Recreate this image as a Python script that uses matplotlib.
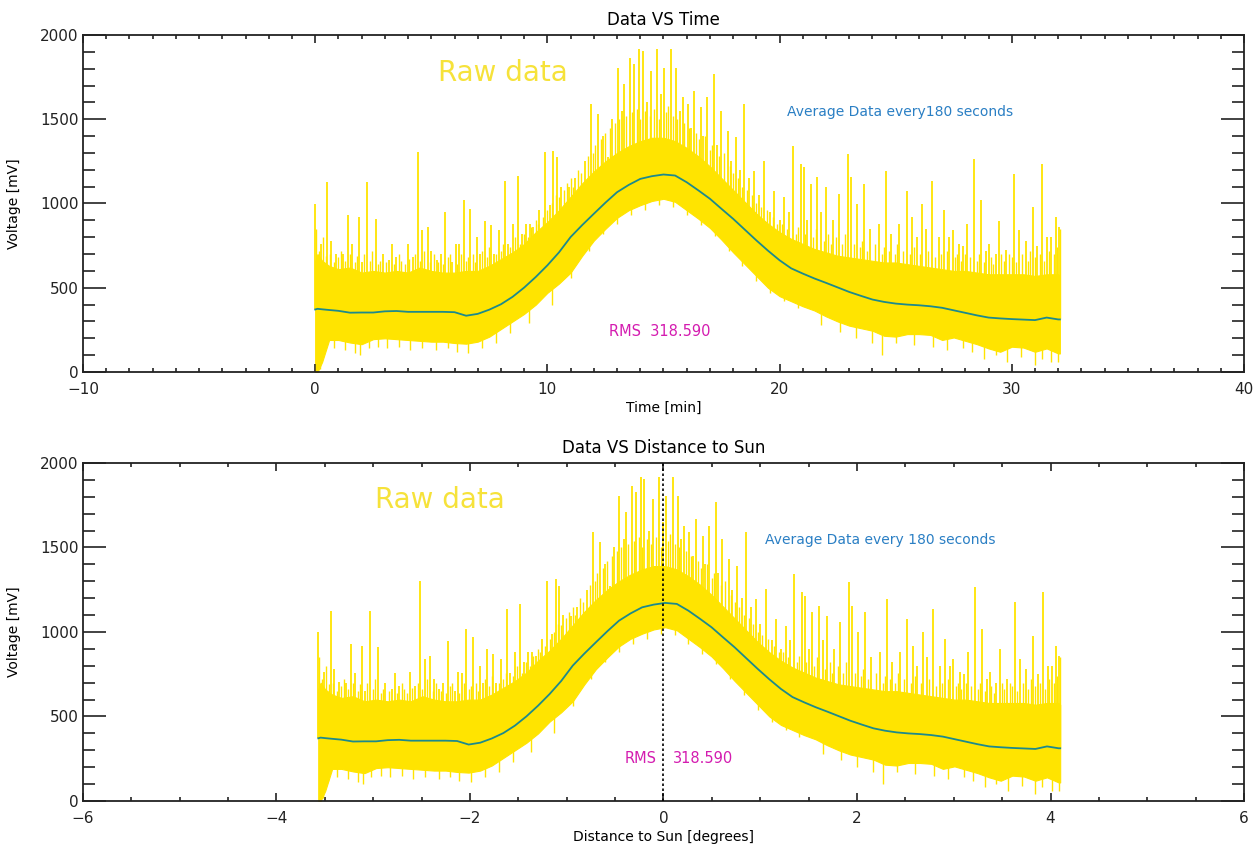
import numpy as np
import matplotlib
matplotlib.use('Agg')
import matplotlib.pyplot as plt
from matplotlib.ticker import MultipleLocator

plt.rcParams['font.family'] = ['DejaVu Sans']

# time grid of the envelope / running average [min]
env_t = [0.0, 0.1, 0.3, 0.6, 1.0, 1.5, 2.0, 2.5, 3.0, 3.5, 4.0, 4.5, 5.0, 5.5,
         6.0, 6.5, 7.0, 7.5, 8.0, 8.5, 9.0, 9.5, 10.0, 10.5, 11.0, 11.5, 12.0,
         12.5, 13.0, 13.5, 14.0, 14.5, 15.0, 15.5, 16.0, 16.5, 17.0, 17.5, 18.0,
         18.5, 19.0, 19.5, 20.0, 20.5, 21.0, 21.5, 22.0, 22.5, 23.0, 23.5, 24.0,
         24.5, 25.0, 25.5, 26.0, 26.5, 27.0, 27.5, 28.0, 28.5, 29.0, 29.5, 30.0,
         30.5, 31.0, 31.5, 32.0, 32.07]
# lower edge of the raw data band [mV]
raw_low = [0, 0, 60, 190, 190, 175, 165, 195, 200, 195, 190, 185, 180, 180,
           172, 168, 180, 210, 255, 300, 345, 400, 470, 525, 590, 690, 780,
           850, 915, 960, 990, 1015, 1028, 1010, 960, 910, 855, 785, 710,
           640, 570, 500, 450, 420, 390, 365, 330, 300, 275, 260, 245,
           215, 210, 225, 225, 220, 190, 205, 185, 165, 140, 120, 150,
           145, 120, 140, 110, 110]
# upper edge of the dense part of the raw data [mV]
raw_high = [660, 700, 660, 630, 610, 620, 590, 600, 590, 600, 590, 620, 600, 590,
            590, 600, 600, 630, 670, 710, 760, 830, 890, 960, 1040, 1120, 1190,
            1250, 1300, 1340, 1370, 1390, 1390, 1370, 1330, 1280, 1220, 1150, 1080,
            1010, 940, 880, 830, 790, 760, 730, 710, 690, 680, 670, 660,
            650, 650, 640, 630, 620, 610, 600, 600, 590, 580, 580, 580,
            580, 570, 580, 580, 570]
# average data every 180 s [mV]
avg_v = [371, 375, 372, 368, 363, 352, 353, 353, 360, 362, 357, 357, 357, 357,
         355, 334, 345, 370, 402, 446, 501, 564, 633, 710, 801, 872, 939,
         1005, 1067, 1110, 1146, 1162, 1172, 1166, 1126, 1078, 1028, 968, 909,
         845, 781, 720, 663, 615, 584, 555, 529, 502, 475, 452, 430,
         416, 406, 400, 396, 390, 381, 366, 351, 336, 323, 318, 314,
         311, 308, 323, 312, 312]

# tall spikes of the raw signal: time [min], peak [mV]
spike_t = [0.0, 0.24, 0.53, 0.7, 0.89, 1.2, 1.4, 1.6, 1.87, 2.0, 2.25, 2.6, 2.9,
           3.2, 3.3, 3.5, 3.98, 4.2, 4.41, 4.62, 4.84, 5.0, 5.24, 5.4, 5.6, 5.9,
           6.06, 6.2, 6.39, 6.68, 6.99, 7.1, 7.31, 7.57, 7.7, 7.92, 8.17, 8.3,
           8.5, 8.74, 8.9, 9.07, 9.26, 9.4, 9.65, 9.9, 10.1, 10.26, 10.4, 10.6,
           10.94, 11.2, 11.37, 11.6, 11.87, 12.16, 12.4, 12.59, 12.8, 13.02,
           13.2, 13.31, 13.57, 13.74, 13.95, 14.1, 14.3, 14.46, 14.74, 14.9,
           15.03, 15.32, 15.53, 15.7, 15.82, 16.04, 16.2, 16.32, 16.61, 16.7,
           16.89, 17.18, 17.3, 17.47, 17.76, 17.9, 18.12, 18.3, 18.47, 18.7,
           18.9, 19.1, 19.34, 19.6, 19.77, 20.0, 20.2, 20.4, 20.56, 20.92,
           21.06, 21.2, 21.35, 21.63, 21.8, 21.99, 22.3, 22.57, 22.93, 23.07,
           23.35, 23.64, 23.9, 24.29, 24.6, 24.8, 25.15, 25.47, 25.72, 25.9,
           26.15, 26.3, 26.56, 26.87, 27.09, 27.3, 27.45, 27.73, 27.9, 28.09,
           28.38, 28.67, 28.9, 29.02, 29.3, 29.45, 29.77, 30.1, 30.32, 30.6,
           30.9, 31.1, 31.32, 31.53, 31.7, 31.89, 32.04]
spike_v = [998, 761, 1126, 780, 702, 700, 929, 760, 919, 650, 1126, 909, 700,
           663, 760, 682, 761, 680, 1304, 840, 860, 720, 663, 700, 949, 650,
           761, 760, 1018, 968, 801, 700, 899, 870, 700, 840, 1136, 760,
           880, 1166, 820, 880, 880, 860, 959, 1304, 990, 1314, 1274, 1100,
           1097, 1150, 1077, 1250, 1590, 1531, 1400, 1274, 1500, 1807,
           1550, 1708, 1866, 1826, 1915, 1905, 1600, 1787, 1915, 1650,
           1807, 1915, 1807, 1550, 1629, 1590, 1450, 1669, 1570, 1400,
           1629, 1767, 1350, 1550, 1432, 1250, 1393, 1200, 1590, 1150,
           1195, 1050, 1254, 950, 1077, 900, 1037, 950, 1343, 1235,
           1215, 900, 1116, 1156, 950, 1097, 900, 1057, 1294, 1156,
           998, 1116, 850, 880, 1195, 820, 880, 1077, 919, 800,
           998, 850, 1136, 801, 959, 800, 840, 761, 750, 880,
           1264, 1018, 720, 761, 700, 899, 722, 1176, 840, 780,
           978, 750, 1235, 801, 800, 919, 860]

# shorter spikes that make the ragged top of the band
small_t = [0.05, 0.15, 0.35, 0.45, 0.65, 0.8, 1.0, 1.1, 1.3, 1.5, 1.7, 1.8, 2.1,
           2.35, 2.45, 2.7, 2.8, 3.05, 3.4, 3.6, 3.7, 3.85, 4.05, 4.3, 4.5, 4.7,
           4.95, 5.1, 5.3, 5.5, 5.7, 5.8, 6.1, 6.3, 6.5, 6.6, 6.8, 6.9, 7.2, 7.4,
           7.5, 7.8, 8.0, 8.1, 8.4, 8.6, 8.8, 9.0, 9.15, 9.3, 9.5, 9.6, 9.8,
           10.0, 10.2, 10.35, 10.5, 10.7, 10.85, 11.0, 11.1, 11.3, 11.45, 11.75,
           11.95, 12.05, 12.3, 12.5, 12.7, 12.9, 13.1, 13.4, 13.65, 13.85, 14.0,
           14.2, 14.4, 14.6, 14.8, 15.1, 15.2, 15.4, 15.6, 15.9, 16.1, 16.4,
           16.55, 16.8, 17.0, 17.1, 17.4, 17.6, 17.85, 18.0, 18.2, 18.4, 18.6,
           18.8, 19.0, 19.2, 19.45, 19.7, 19.9, 20.1, 20.3, 20.7, 20.8, 21.1,
           21.45, 21.55, 21.9, 22.1, 22.2, 22.45, 22.7, 22.8, 23.2, 23.45, 23.55,
           23.75, 24.1, 24.4, 24.5, 24.7, 24.95, 25.05, 25.3, 25.6, 25.8, 26.05,
           26.4, 26.7, 26.95, 27.2, 27.55, 27.65, 27.8, 28.0, 28.2, 28.5, 28.6,
           28.8, 29.1, 29.2, 29.55, 29.65, 29.9, 30.0, 30.2, 30.45, 30.7, 30.8,
           31.0, 31.2, 31.4, 31.6, 31.8, 31.95, 32.07]
small_v = [850, 720, 800, 690, 700, 650, 680, 720, 660, 700, 650, 690, 700,
           660, 720, 640, 660, 650, 640, 700, 660, 640, 670, 700, 660, 720,
           650, 700, 650, 640, 680, 700, 640, 700, 660, 680, 700, 650, 720, 680,
           740, 700, 720, 760, 740, 800, 760, 820, 800, 860, 900, 880, 920,
           960, 1000, 1050, 1040, 1080, 1120, 1150, 1100, 1200, 1180, 1280,
           1300, 1350, 1380, 1420, 1450, 1480, 1500, 1520, 1540, 1560, 1500,
           1550, 1520, 1560, 1500, 1540, 1580, 1520, 1500, 1480, 1450, 1420,
           1380, 1400, 1320, 1350, 1280, 1300, 1220, 1180, 1150, 1100, 1080,
           1050, 1000, 980, 960, 920, 880, 880, 850, 820, 860, 820,
           800, 850, 780, 820, 760, 800, 760, 820, 760, 740, 780,
           720, 760, 700, 740, 720, 700, 760, 720, 700, 740, 700,
           720, 680, 700, 720, 680, 700, 660, 700, 680, 660, 700,
           650, 680, 640, 700, 660, 700, 680, 650, 700, 660, 720,
           680, 700, 660, 720, 700, 740, 850]

# downward spikes below the band
dip_t = [0.05, 0.2, 0.4, 0.8, 1.3, 1.7, 1.95, 2.3, 2.7, 3.1, 3.6, 4.1, 4.6, 5.2,
         5.7, 6.1, 6.6, 7.2, 7.8, 8.4, 9.2, 10.2, 11.0, 11.8, 12.4, 13.0, 13.6,
         14.2, 14.8, 15.4, 16.0, 16.6, 17.2, 17.8, 18.4, 19.0, 19.6, 20.2, 20.8,
         21.8, 22.6, 23.3, 24.0, 24.4, 25.0, 25.8, 26.6, 27.2, 27.9, 28.3, 28.8,
         29.3, 29.8, 30.4, 31.0, 31.3, 31.7, 32.0]
dip_v = [0, 20, 120, 140, 130, 110, 100, 140, 150, 140, 150, 130, 140, 130,
         140, 120, 110, 140, 170, 230, 290, 400, 560, 720, 820, 880, 930,
         960, 990, 980, 930, 870, 810, 720, 630, 540, 470, 420, 380,
         280, 240, 200, 170, 100, 170, 160, 150, 130, 140, 120, 80,
         100, 60, 90, 40, 80, 60, 60]

# time -> angular distance to the Sun
DEG_START = -3.568
DEG_PER_MIN = 0.2391

YELLOW = '#ffe400'
LINE_C = '#1d8a8c'
BLUE_T = '#2a7fc4'
MAG_T = '#d41cb0'

env_t = np.array(env_t)
spike_t = np.array(spike_t)
small_t = np.array(small_t)
dip_t = np.array(dip_t)

fig = plt.figure(figsize=(12.59, 8.47), dpi=100)
ax1 = fig.add_axes([0.0659, 0.5608, 0.9222, 0.3979])
ax2 = fig.add_axes([0.0659, 0.0543, 0.9222, 0.3991])


def draw(ax, conv):
    x = conv(env_t)
    ax.fill_between(x, raw_low, raw_high, color=YELLOW, lw=0.8, ec=YELLOW, zorder=1)
    ax.vlines(conv(small_t), np.interp(small_t, env_t, avg_v), small_v,
              color=YELLOW, lw=1.0, zorder=2)
    ax.vlines(conv(dip_t), dip_v, np.interp(dip_t, env_t, avg_v),
              color=YELLOW, lw=1.0, zorder=2)
    ax.vlines(conv(spike_t), np.interp(spike_t, env_t, avg_v), spike_v,
              color=YELLOW, lw=1.3, zorder=2)
    ax.plot(x, avg_v, color=LINE_C, lw=1.3, zorder=3)
    ax.set_ylim(0, 2000)
    ax.yaxis.set_major_locator(MultipleLocator(500))
    ax.yaxis.set_minor_locator(MultipleLocator(100))
    ax.tick_params(which='both', direction='in', top=True, right=True,
                   labelsize=11, colors='#222222')
    ax.tick_params(axis='y', which='major', length=16.5, width=1.2, pad=3)
    ax.tick_params(axis='y', which='minor', length=8.5, width=1.2)
    ax.tick_params(axis='x', which='major', length=5.5, width=1.2, pad=7)
    ax.tick_params(axis='x', which='minor', length=3, width=1.2)
    for s in ax.spines.values():
        s.set_linewidth(1.3)
        s.set_color('#222222')
    ax.set_ylabel('Voltage [mV]', fontsize=10, labelpad=14)


draw(ax1, lambda t: t)
ax1.set_xlim(-10, 40)
ax1.xaxis.set_major_locator(MultipleLocator(10))
ax1.xaxis.set_minor_locator(MultipleLocator(1))
ax1.set_title('Data VS Time', fontsize=12, pad=7)
ax1.set_xlabel('Time [min]', fontsize=10, labelpad=3)
ax1.text(5.3, 1775, 'Raw data', color='#f6e23a', fontsize=20, va='center', ha='left')
ax1.text(20.3, 1540, 'Average Data every180 seconds', color=BLUE_T, fontsize=10,
         va='center', ha='left')
ax1.text(12.66, 243, 'RMS  318.590', color=MAG_T, fontsize=10.5, va='center', ha='left')

draw(ax2, lambda t: DEG_START + DEG_PER_MIN * t)
ax2.set_xlim(-6, 6)
ax2.xaxis.set_major_locator(MultipleLocator(2))
ax2.xaxis.set_minor_locator(MultipleLocator(0.5))
ax2.axvline(0, color='black', lw=1.2, ls=(0, (1.5, 1.5)), zorder=4)
ax2.set_title('Data VS Distance to Sun', fontsize=12, pad=7)
ax2.set_xlabel('Distance to Sun [degrees]', fontsize=10, labelpad=3)
ax2.text(-2.98, 1780, 'Raw data', color='#f6e23a', fontsize=20, va='center', ha='left')
ax2.text(1.05, 1544, 'Average Data every 180 seconds', color=BLUE_T, fontsize=10,
         va='center', ha='left')
ax2.text(-0.40, 254, 'RMS', color=MAG_T, fontsize=10.5, va='center', ha='left')
ax2.text(0.10, 254, '318.590', color=MAG_T, fontsize=10.5, va='center', ha='left')

fig.savefig('out.png', dpi=100)
